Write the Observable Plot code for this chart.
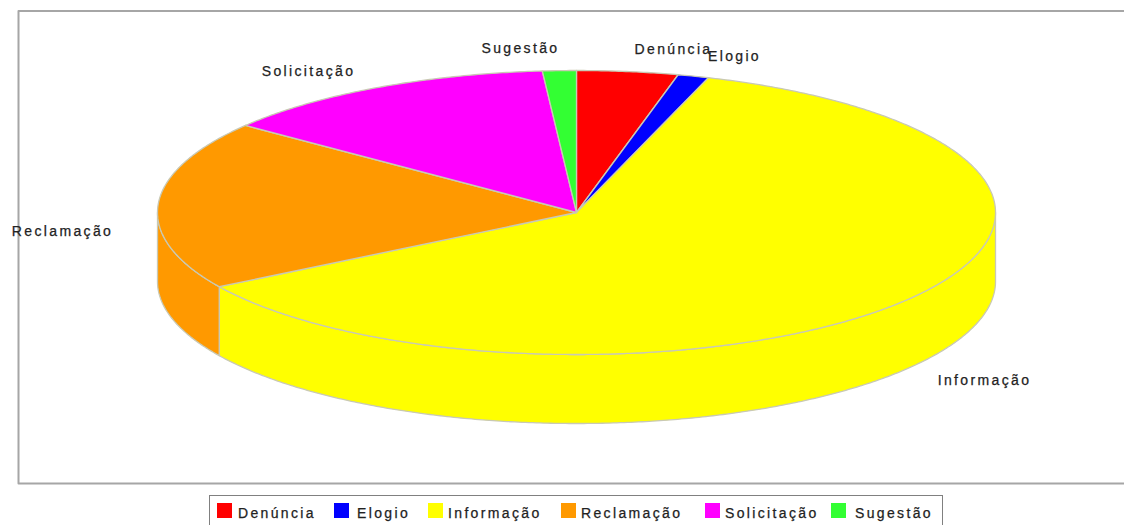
<!DOCTYPE html>
<html lang="pt">
<head>
<meta charset="utf-8">
<script src="https://cdn.jsdelivr.net/npm/d3@7"></script>
<script src="https://cdn.jsdelivr.net/npm/@observablehq/plot@0.6"></script>
<style>
  html, body { margin: 0; padding: 0; background: #fff; overflow: hidden; }
  #chart svg { display: block; }
  #legend { position: absolute; left: 209px; top: 495px; width: 734px; height: 30px; box-sizing: border-box;
    border: 1px solid #808080; border-bottom: none; font: 14px "Liberation Sans", sans-serif; color: #222; letter-spacing: 2.35px;
    -webkit-text-stroke: 0.25px #222; }
  #legend span.s { position: absolute; top: 7px; width: 15px; height: 15px; }
  #legend span.t { position: absolute; top: 9px; line-height: 16px; white-space: nowrap; }
</style>
</head>
<body>
<div id="chart"></div>
<div id="legend"></div>
<script>
// Data (percent of the pie)
const categories = ["Denúncia", "Elogio", "Informação", "Reclamação", "Solicitação", "Sugestão"];
const shares = [3.9, 1.2, 61.15, 19.25, 13.2, 1.3];
const colors = ["#ff0000", "#0000ff", "#ffff00", "#ff9900", "#ff00ff", "#33ff33"];

// Layout
const W = 1124, H = 490;
const cx = 576, cy = 212, rx = 419, ry = 142, depth = 69;
const frame = {left: 18, top: 10.5, bottom: 483};
const labelPixels = [[673, 49], [734, 56], [984, 380], [62, 231], [308, 71], [520, 48]];
const legendSwatchX = [7, 124, 218, 351, 495, 621];
const legendTextX = [28, 147, 238, 371, 515, 645];

// Unit-pie coordinates: angle runs clockwise from the top of the ellipse
const unitX = px => (px - cx) / rx;
const unitY = py => (cy - py) / ry;
const drop = depth / ry;
const total = d3.sum(shares);
const ends = d3.cumsum(shares).map(v => v / total * 360);
const starts = [0, ...ends.slice(0, -1)];
const rad = a => a * Math.PI / 180;
const arc = (a0, a1) => {
  const n = Math.max(2, Math.ceil((a1 - a0) * 2));
  return d3.range(n + 1).map(i => a0 + (a1 - a0) * i / n);
};

const tops = [], walls = [];
categories.forEach((c, i) => {
  const id = "t" + i;
  tops.push({id, c, x: 0, y: 0});
  arc(starts[i], ends[i]).forEach(a => tops.push({id, c, x: Math.sin(rad(a)), y: Math.cos(rad(a))}));
  tops.push({id, c, x: 0, y: 0});
  // the rim is visible only on the front half of the ellipse
  const a0 = Math.max(starts[i], 90), a1 = Math.min(ends[i], 270);
  if (a1 > a0) {
    const wid = "w" + i;
    const front = arc(a0, a1);
    front.forEach(a => walls.push({id: wid, c, x: Math.sin(rad(a)), y: Math.cos(rad(a))}));
    front.slice().reverse().forEach(a => walls.push({id: wid, c, x: Math.sin(rad(a)), y: Math.cos(rad(a)) - drop}));
    walls.push({id: wid, c, x: Math.sin(rad(a0)), y: Math.cos(rad(a0))});
  }
});

const labels = categories.map((c, i) => ({c, x: unitX(labelPixels[i][0]), y: unitY(labelPixels[i][1])}));
const frameLines = [
  {x: unitX(W + 5), y: unitY(frame.top)}, {x: unitX(frame.left), y: unitY(frame.top)},
  {x: unitX(frame.left), y: unitY(frame.bottom)}, {x: unitX(W + 5), y: unitY(frame.bottom)}
];

const pieLine = {x: "x", y: "y", z: "id", fill: "c", stroke: "#c9c9b4", strokeWidth: 1.3, strokeLinejoin: "round"};

const chart = Plot.plot({
  width: W, height: H,
  margin: 0,
  x: {domain: [unitX(0), unitX(W)], range: [0, W], axis: null},
  y: {domain: [unitY(0), unitY(H)], range: [0, H], axis: null},
  color: {domain: categories, range: colors},
  style: {background: "#fff", fontFamily: "'Liberation Sans', sans-serif", fontSize: "14px", letterSpacing: "2.35px"},
  marks: [
    Plot.line(frameLines, {x: "x", y: "y", stroke: "#a6a6a6", strokeWidth: 2}),
    Plot.line(walls, pieLine),
    Plot.line(tops, pieLine),
    Plot.text(labels, {x: "x", y: "y", text: "c", fill: "#222", stroke: "#222", strokeWidth: 0.25, fontSize: 14})
  ]
});
document.getElementById("chart").append(chart);

const legend = document.getElementById("legend");
categories.forEach((c, i) => {
  const s = document.createElement("span");
  s.className = "s"; s.style.left = legendSwatchX[i] + "px"; s.style.background = colors[i];
  const t = document.createElement("span");
  t.className = "t"; t.style.left = legendTextX[i] + "px"; t.textContent = c;
  legend.append(s, t);
});
</script>
</body>
</html>
